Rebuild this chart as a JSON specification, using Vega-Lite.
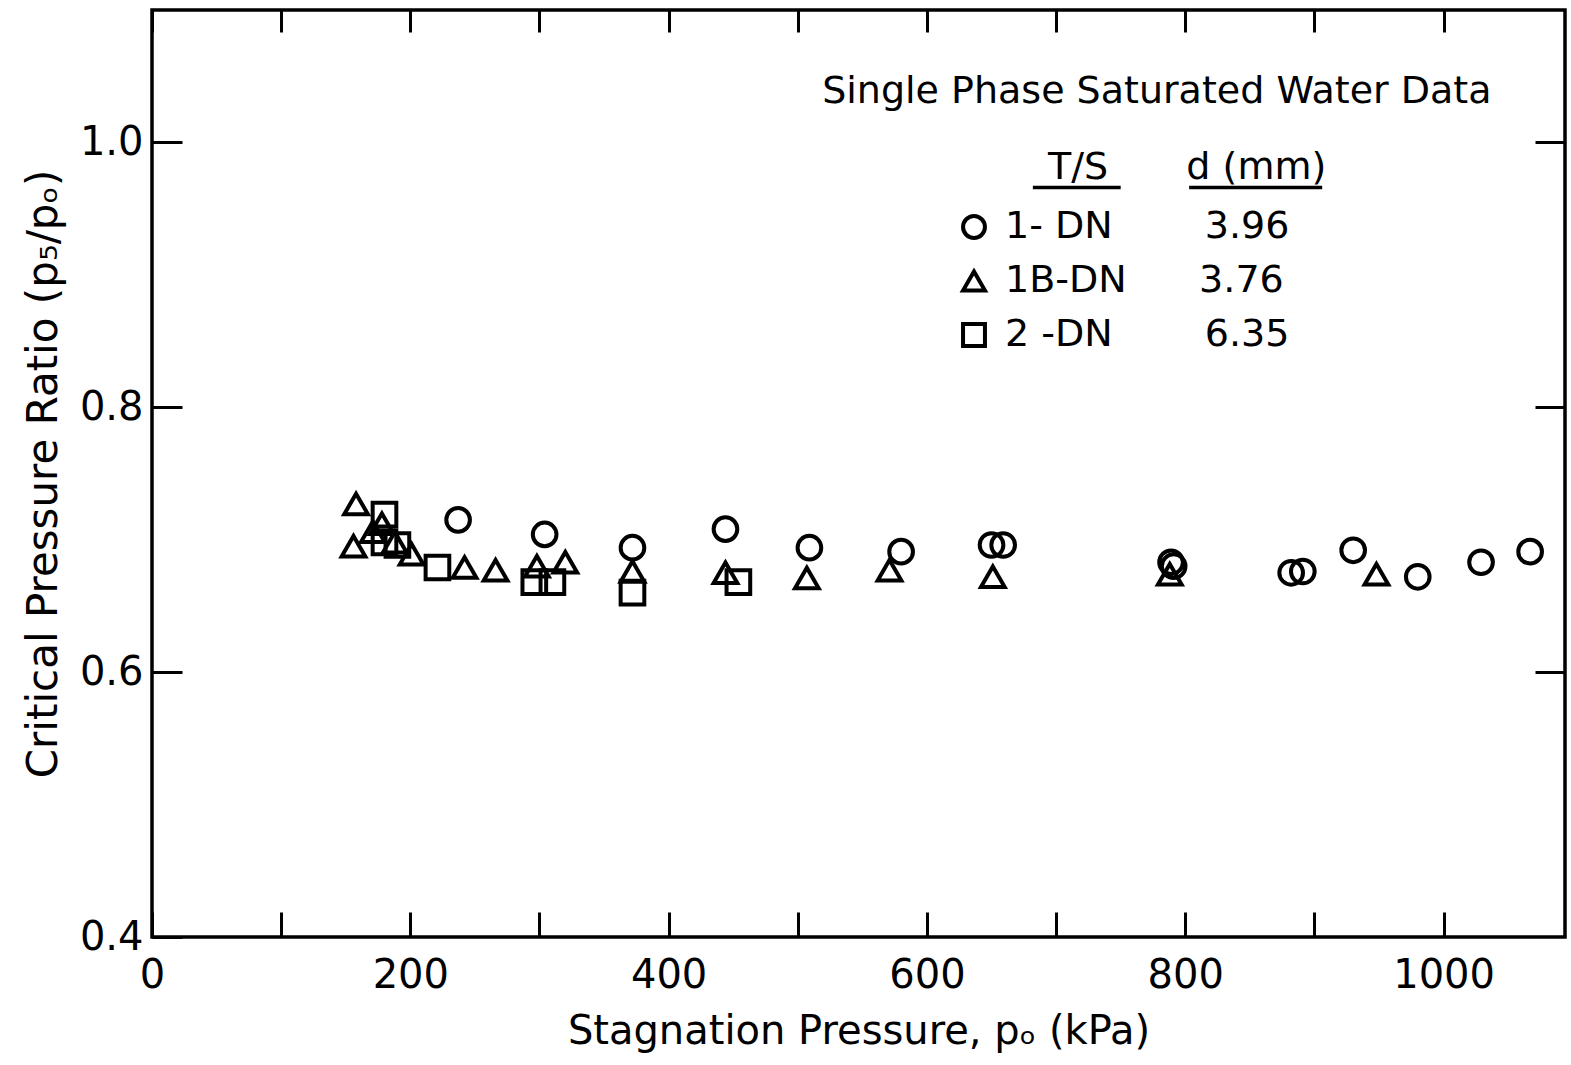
{
  "$schema": "https://vega.github.io/schema/vega-lite/v6.json",
  "width": 1413,
  "height": 927,
  "autosize": {"type": "none"},
  "padding": {"left": 152, "top": 10, "right": 6, "bottom": 128},
  "background": "white",
  "config": {
    "view": {"stroke": "black", "strokeWidth": 3.5},
    "font": "DejaVu Sans",
    "axis": {
      "grid": false,
      "domain": false,
      "tickColor": "black",
      "tickWidth": 3,
      "labelColor": "black",
      "titleColor": "black",
      "labelFont": "DejaVu Sans",
      "titleFont": "DejaVu Sans",
      "titleFontWeight": "normal"
    }
  },
  "datasets": {
    "points": [
      {"p0": 237, "ratio": 0.715, "ts": "1- DN"},
      {"p0": 304, "ratio": 0.704, "ts": "1- DN"},
      {"p0": 372, "ratio": 0.694, "ts": "1- DN"},
      {"p0": 444, "ratio": 0.708, "ts": "1- DN"},
      {"p0": 509, "ratio": 0.694, "ts": "1- DN"},
      {"p0": 580, "ratio": 0.691, "ts": "1- DN"},
      {"p0": 650, "ratio": 0.696, "ts": "1- DN"},
      {"p0": 659, "ratio": 0.696, "ts": "1- DN"},
      {"p0": 789, "ratio": 0.683, "ts": "1- DN"},
      {"p0": 791, "ratio": 0.680, "ts": "1- DN"},
      {"p0": 882, "ratio": 0.675, "ts": "1- DN"},
      {"p0": 891, "ratio": 0.676, "ts": "1- DN"},
      {"p0": 930, "ratio": 0.692, "ts": "1- DN"},
      {"p0": 980, "ratio": 0.672, "ts": "1- DN"},
      {"p0": 1029, "ratio": 0.683, "ts": "1- DN"},
      {"p0": 1067, "ratio": 0.691, "ts": "1- DN"},
      {"p0": 158, "ratio": 0.727, "ts": "1B-DN"},
      {"p0": 178, "ratio": 0.712, "ts": "1B-DN"},
      {"p0": 171, "ratio": 0.706, "ts": "1B-DN"},
      {"p0": 156, "ratio": 0.695, "ts": "1B-DN"},
      {"p0": 188, "ratio": 0.698, "ts": "1B-DN"},
      {"p0": 201, "ratio": 0.689, "ts": "1B-DN"},
      {"p0": 242, "ratio": 0.679, "ts": "1B-DN"},
      {"p0": 266, "ratio": 0.677, "ts": "1B-DN"},
      {"p0": 298, "ratio": 0.680, "ts": "1B-DN"},
      {"p0": 320, "ratio": 0.683, "ts": "1B-DN"},
      {"p0": 372, "ratio": 0.676, "ts": "1B-DN"},
      {"p0": 444, "ratio": 0.675, "ts": "1B-DN"},
      {"p0": 507, "ratio": 0.671, "ts": "1B-DN"},
      {"p0": 571, "ratio": 0.677, "ts": "1B-DN"},
      {"p0": 651, "ratio": 0.672, "ts": "1B-DN"},
      {"p0": 788, "ratio": 0.674, "ts": "1B-DN"},
      {"p0": 948, "ratio": 0.674, "ts": "1B-DN"},
      {"p0": 180, "ratio": 0.719, "ts": "2 -DN"},
      {"p0": 180, "ratio": 0.698, "ts": "2 -DN"},
      {"p0": 190, "ratio": 0.696, "ts": "2 -DN"},
      {"p0": 221, "ratio": 0.679, "ts": "2 -DN"},
      {"p0": 296, "ratio": 0.668, "ts": "2 -DN"},
      {"p0": 310, "ratio": 0.668, "ts": "2 -DN"},
      {"p0": 372, "ratio": 0.660, "ts": "2 -DN"},
      {"p0": 454, "ratio": 0.668, "ts": "2 -DN"}
    ]
  },
  "layer": [
    {
      "data": {"name": "points"},
      "mark": {"type": "point", "filled": false, "stroke": "black", "strokeWidth": 4, "size": 560, "opacity": 1},
      "encoding": {
        "x": {
          "field": "p0", "type": "quantitative",
          "scale": {"domain": [0, 1094], "nice": false, "zero": false},
          "axis": {
            "orient": "bottom",
            "title": "Stagnation Pressure, pₒ (kPa)",
            "titleFontSize": 40,
            "titlePadding": 16,
            "values": [0, 100, 200, 300, 400, 500, 600, 700, 800, 900, 1000],
            "labelExpr": "datum.value % 200 == 0 ? datum.label : ''",
            "format": "d",
            "labelFontSize": 40,
            "labelPadding": 43,
            "tickSize": -25,
            "labelFlush": false,
            "labelOverlap": false
          }
        },
        "y": {
          "field": "ratio", "type": "quantitative",
          "scale": {"domain": [0.4, 1.1], "nice": false, "zero": false},
          "axis": {
            "orient": "left",
            "title": "Critical Pressure Ratio (p₅/pₒ)",
            "titleFontSize": 42,
            "titlePadding": 14,
            "values": [0.4, 0.6, 0.8, 1.0],
            "format": ".1f",
            "labelFontSize": 40,
            "labelPadding": 39,
            "tickSize": -30,
            "labelFlush": false,
            "labelOverlap": false
          }
        },
        "shape": {
          "field": "ts", "type": "nominal",
          "scale": {"domain": ["1- DN", "1B-DN", "2 -DN"], "range": ["circle", "triangle-up", "square"]},
          "legend": {
            "orient": "none",
            "legendX": 803,
            "legendY": 198,
            "title": null,
            "symbolStrokeColor": "black",
            "symbolFillColor": "white",
            "symbolStrokeWidth": 4,
            "symbolSize": 480,
            "labelFontSize": 38,
            "labelColor": "black",
            "labelOffset": 12,
            "rowPadding": 16,
            "labelLimit": 600,
            "labelExpr": "datum.label == '1- DN' ? '1-\u00a0DN\u00a0\u00a0\u00a0\u00a0\u00a0\u00a0\u00a0\u20093.96' : datum.label == '1B-DN' ? '1B-DN\u00a0\u00a0\u00a0\u00a0\u00a0\u00a03.76' : '2\u00a0-DN\u00a0\u00a0\u00a0\u00a0\u00a0\u00a0\u00a0\u20096.35'"
          }
        }
      }
    },
    {
      "data": {"values": [{}]},
      "mark": {"type": "rule", "stroke": "black", "strokeWidth": 3.5},
      "encoding": {
        "x": {
          "datum": 682, "type": "quantitative",
          "axis": {"orient": "top", "title": null, "labels": false, "values": [0, 100, 200, 300, 400, 500, 600, 700, 800, 900, 1000], "tickSize": -22}
        },
        "x2": {"datum": 750},
        "y": {
          "datum": 0.966, "type": "quantitative",
          "axis": {"orient": "right", "title": null, "labels": false, "values": [0.6, 0.8, 1.0], "tickSize": -30}
        }
      }
    },
    {
      "data": {"values": [{}]},
      "mark": {"type": "rule", "stroke": "black", "strokeWidth": 3.5},
      "encoding": {
        "x": {"datum": 803, "type": "quantitative", "axis": null},
        "x2": {"datum": 906},
        "y": {"datum": 0.966, "type": "quantitative", "axis": null}
      }
    },
    {
      "data": {"values": [{}]},
      "mark": {"type": "text", "fontSize": 38, "align": "center", "baseline": "alphabetic", "color": "black"},
      "encoding": {
        "x": {"datum": 778, "type": "quantitative", "axis": null},
        "y": {"datum": 1.03, "type": "quantitative", "axis": null},
        "text": {"value": "Single Phase Saturated Water Data"}
      }
    },
    {
      "data": {"values": [{}]},
      "mark": {"type": "text", "fontSize": 38, "align": "center", "baseline": "alphabetic", "color": "black"},
      "encoding": {
        "x": {"datum": 717, "type": "quantitative", "axis": null},
        "y": {"datum": 0.9725, "type": "quantitative", "axis": null},
        "text": {"value": "T/S"}
      }
    },
    {
      "data": {"values": [{}]},
      "mark": {"type": "text", "fontSize": 38, "align": "center", "baseline": "alphabetic", "color": "black"},
      "encoding": {
        "x": {"datum": 855, "type": "quantitative", "axis": null},
        "y": {"datum": 0.9725, "type": "quantitative", "axis": null},
        "text": {"value": "d (mm)"}
      }
    }
  ],
  "resolve": {"axis": {"x": "independent", "y": "independent"}}
}
